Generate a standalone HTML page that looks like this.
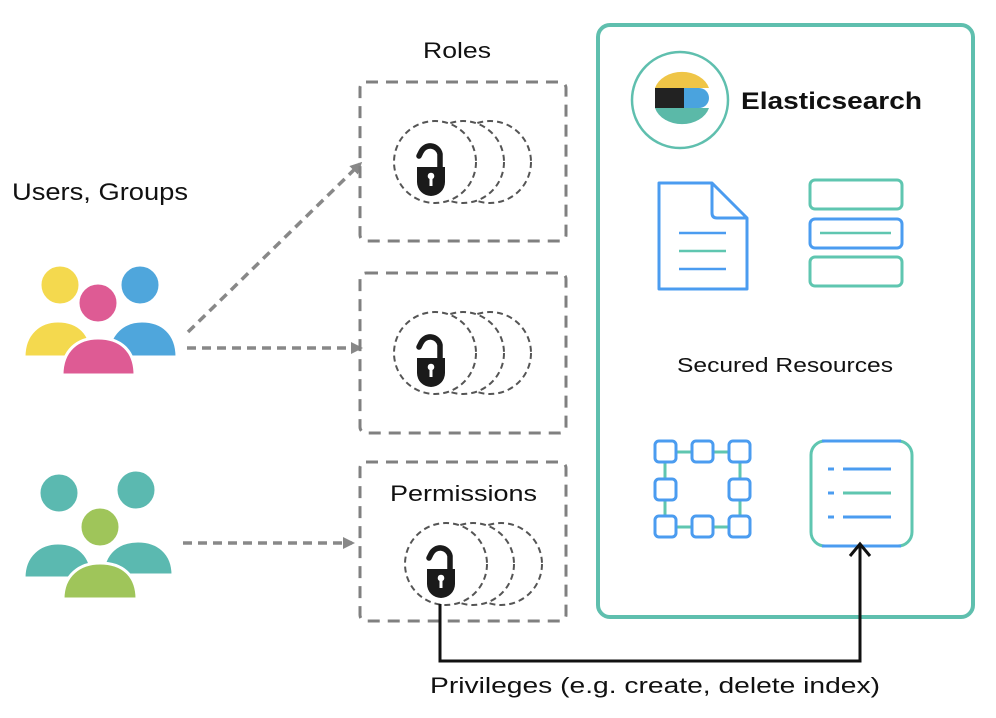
<!DOCTYPE html>
<html><head><meta charset="utf-8"><style>
html,body{margin:0;padding:0;background:#fff;}
svg{display:block;}
text{font-family:"Liberation Sans",sans-serif;}
</style></head><body>
<svg width="996" height="718" viewBox="0 0 996 718" xmlns="http://www.w3.org/2000/svg">
<defs>
<marker id="ga" markerWidth="12" markerHeight="12" refX="9" refY="6" orient="auto" markerUnits="userSpaceOnUse" viewBox="0 0 12 12">
<path d="M0,0 L12,6 L0,12 z" fill="#888"/></marker>
<g id="lock">
<path d="M9,-4 L9,-18 A10,10 0 0 0 -10,-20 L-12,-16" fill="none" stroke="#1a1a1a" stroke-width="5.5" stroke-linecap="round"/>
<path d="M-14,-5 L14,-5 L14,10 A14,14 0 0 1 -14,10 Z" fill="#1a1a1a"/>
<circle cx="0" cy="4" r="3.3" fill="#fff"/>
<rect x="-1.5" y="5" width="3" height="9" fill="#fff"/>
</g>
<g id="circ" fill="none" stroke="#555" stroke-width="2" stroke-dasharray="6,4">
<circle cx="0" cy="0" r="41" fill="#fff"/>
</g>
</defs>

<text x="12" y="200" font-size="24" fill="#111" textLength="176" lengthAdjust="spacingAndGlyphs">Users, Groups</text>
<text x="423" y="58" font-size="22" fill="#111" textLength="68" lengthAdjust="spacingAndGlyphs">Roles</text>

<g stroke="#fff" stroke-width="3">
<path d="M24,357 C24,333 40,321 58,321 C78,321 92,333 92,357 Z" fill="#f4d94e"/>
<circle cx="60" cy="285" r="20" fill="#f4d94e"/>
<path d="M108,357 C108,333 124,321 142,321 C162,321 177,333 177,357 Z" fill="#4fa6dc"/>
<circle cx="140" cy="285" r="20" fill="#4fa6dc"/>
<path d="M62,375 C62,350 78,338 98,338 C120,338 135,350 135,375 Z" fill="#de5b94"/>
<circle cx="98" cy="303" r="20" fill="#de5b94"/>
</g>
<g stroke="#fff" stroke-width="3">
<path d="M24,578 C24,555 40,543 58,543 C78,543 92,555 92,578 Z" fill="#5bb9b0"/>
<circle cx="59" cy="493" r="20" fill="#5bb9b0"/>
<path d="M103,575 C103,553 118,541 138,541 C158,541 173,553 173,575 Z" fill="#5bb9b0"/>
<circle cx="136" cy="490" r="20" fill="#5bb9b0"/>
<path d="M63,599 C63,575 80,563 100,563 C122,563 137,575 137,599 Z" fill="#9fc55a"/>
<circle cx="100" cy="527" r="20" fill="#9fc55a"/>
</g>

<g stroke="#888" stroke-width="3.5" stroke-dasharray="9,6" fill="none" marker-end="url(#ga)">
<line x1="188" y1="332" x2="360" y2="164"/>
<line x1="187" y1="348" x2="360" y2="348"/>
<line x1="183" y1="543" x2="352" y2="543"/>
</g>

<g fill="none" stroke="#808080" stroke-width="3" stroke-dasharray="12,8">
<rect x="360" y="82" width="206" height="159" rx="6"/>
<rect x="360" y="273" width="206" height="160" rx="6"/>
<rect x="360" y="462" width="206" height="159" rx="6"/>
</g>

<use href="#circ" x="490" y="162"/><use href="#circ" x="463" y="162"/><use href="#circ" x="435" y="162"/>
<use href="#lock" x="431" y="172"/>
<use href="#circ" x="490" y="353"/><use href="#circ" x="463" y="353"/><use href="#circ" x="435" y="353"/>
<use href="#lock" x="431" y="363"/>
<use href="#circ" x="501" y="564"/><use href="#circ" x="473" y="564"/><use href="#circ" x="446" y="564"/>
<use href="#lock" x="441" y="574"/>
<text x="390" y="501" font-size="22" fill="#111" textLength="147" lengthAdjust="spacingAndGlyphs">Permissions</text>

<rect x="598" y="25" width="375" height="592" rx="12" fill="none" stroke="#5fbfae" stroke-width="4"/>
<circle cx="680" cy="100" r="48" fill="#fff" stroke="#5fbfae" stroke-width="2.5"/>
<path d="M655,88 A28,22 0 0 1 709,88 Z" fill="#efc547"/>
<rect x="655" y="88" width="29" height="20" fill="#222"/>
<path d="M684,88 L699,88 A10,10 0 0 1 699,108 L684,108 Z" fill="#4aa3de"/>
<path d="M655,108 L709,108 A28,22 0 0 1 655,108 Z" fill="#5bb9a8"/>
<text x="741" y="109" font-size="24" font-weight="bold" fill="#111" textLength="181" lengthAdjust="spacingAndGlyphs">Elasticsearch</text>

<path d="M659,183 L712,183 L747,218 L747,289 L659,289 Z" fill="none" stroke="#4b9cf0" stroke-width="3" stroke-linejoin="round"/>
<path d="M712,183 L712,213 Q712,218 717,218 L747,218" fill="none" stroke="#4b9cf0" stroke-width="3"/>
<line x1="679" y1="233" x2="726" y2="233" stroke="#4b9cf0" stroke-width="2.5"/>
<line x1="679" y1="251" x2="726" y2="251" stroke="#5fc6b0" stroke-width="2.5"/>
<line x1="679" y1="269" x2="726" y2="269" stroke="#4b9cf0" stroke-width="2.5"/>
<g fill="none" stroke-width="3">
<rect x="810" y="180" width="92" height="29" rx="5" stroke="#5fc6b0"/>
<rect x="810" y="219" width="92" height="29" rx="5" stroke="#4b9cf0"/>
<rect x="810" y="257" width="92" height="29" rx="5" stroke="#5fc6b0"/>
</g>
<line x1="820" y1="233" x2="891" y2="233" stroke="#5fc6b0" stroke-width="2.5"/>

<text x="677" y="372" font-size="20" fill="#111" textLength="216" lengthAdjust="spacingAndGlyphs">Secured Resources</text>

<g stroke="#5fc6b0" stroke-width="3">
<line x1="665" y1="452" x2="740" y2="452"/><line x1="665" y1="527" x2="740" y2="527"/>
<line x1="665" y1="452" x2="665" y2="527"/><line x1="740" y1="452" x2="740" y2="527"/>
</g>
<g fill="#fff" stroke="#4b9cf0" stroke-width="3">
<rect x="655" y="441" width="21" height="21" rx="4"/><rect x="692" y="441" width="21" height="21" rx="4"/><rect x="729" y="441" width="21" height="21" rx="4"/>
<rect x="655" y="479" width="21" height="21" rx="4"/><rect x="729" y="479" width="21" height="21" rx="4"/>
<rect x="655" y="516" width="21" height="21" rx="4"/><rect x="692" y="516" width="21" height="21" rx="4"/><rect x="729" y="516" width="21" height="21" rx="4"/>
</g>
<rect x="811" y="441" width="101" height="105" rx="14" fill="none" stroke="#5fc6b0" stroke-width="3"/>
<line x1="822" y1="441" x2="901" y2="441" stroke="#4b9cf0" stroke-width="3"/>
<line x1="822" y1="546" x2="901" y2="546" stroke="#4b9cf0" stroke-width="3"/>
<g stroke-width="3">
<line x1="828" y1="469" x2="834" y2="469" stroke="#4b9cf0"/><line x1="843" y1="469" x2="891" y2="469" stroke="#4b9cf0"/>
<line x1="828" y1="493" x2="834" y2="493" stroke="#4b9cf0"/><line x1="843" y1="493" x2="891" y2="493" stroke="#5fc6b0"/>
<line x1="828" y1="517" x2="834" y2="517" stroke="#4b9cf0"/><line x1="843" y1="517" x2="891" y2="517" stroke="#4b9cf0"/>
</g>

<path d="M440,604 L440,661 L860,661 L860,545" fill="none" stroke="#111" stroke-width="3"/>
<path d="M850,556 L860,544 L870,556" fill="none" stroke="#111" stroke-width="3"/>
<text x="430" y="693" font-size="22" fill="#111" textLength="450" lengthAdjust="spacingAndGlyphs">Privileges (e.g. create, delete index)</text>
</svg>
</body></html>
